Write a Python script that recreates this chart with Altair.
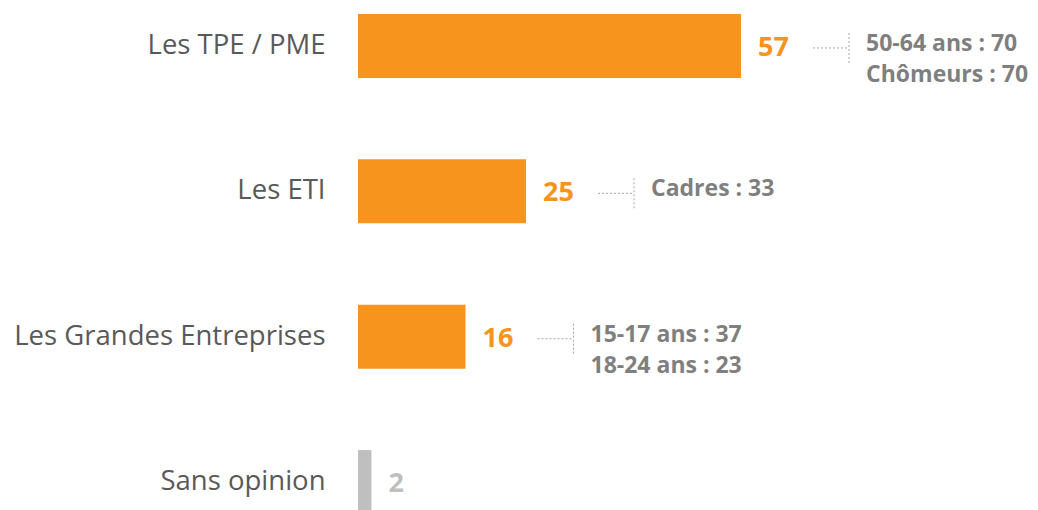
import altair as alt
import pandas as pd

categories = ["Les TPE / PME", "Les ETI", "Les Grandes Entreprises", "Sans opinion"]
values = [57, 25, 16, 2]
notes = ["50-64 ans : 70\nChômeurs : 70", "Cadres : 33", "15-17 ans : 37\n18-24 ans : 23", ""]

df = pd.DataFrame({"cat": categories, "val": values, "note": notes})

ORANGE = "#F7941E"
GREY_BAR = "#BFBFBF"
FONT = "Open Sans"

y = alt.Y("cat:N", sort=categories, title=None,
          scale=alt.Scale(paddingInner=0.56, paddingOuter=0),
          axis=alt.Axis(ticks=False, domain=False, labelPadding=33,
                        labelFontSize=27.5, labelColor="#595959", labelFont=FONT,
                        labelLimit=400))
x = alt.X("val:Q", scale=alt.Scale(domain=[0, 100]), axis=None)

is_other = alt.datum.cat == "Sans opinion"

base = alt.Chart(df)

bars = base.mark_bar().encode(
    x=x, y=y,
    color=alt.condition(is_other, alt.value(GREY_BAR), alt.value(ORANGE)),
)

labels = base.mark_text(align="left", baseline="middle", dx=17, dy=2,
                        fontSize=27, fontWeight="bold", font=FONT).encode(
    x=x, y=alt.Y("cat:N", sort=categories),
    text=alt.Text("val:Q"),
    color=alt.condition(is_other, alt.value(GREY_BAR), alt.value(ORANGE)),
)

noted = base.transform_filter(alt.datum.note != "")

hline = noted.mark_rule(color="#A6A6A6", strokeDash=[2, 2], strokeWidth=1,
                        xOffset=72, x2Offset=106, yOffset=2).encode(
    x=x, x2=alt.X2("val:Q"), y=alt.Y("cat:N", sort=categories),
)

vline = noted.mark_rule(color="#A6A6A6", strokeDash=[2, 2], strokeWidth=1,
                        xOffset=108, yOffset=-13, y2Offset=17).encode(
    x=x, y=alt.Y("cat:N", sort=categories), y2=alt.Y2("cat:N"),
)

note_text = noted.mark_text(align="left", baseline="middle", dx=125, dy=-2,
                            fontSize=23, fontWeight="bold", font=FONT,
                            color="#7F7F7F", lineBreak="\n", lineHeight=31).encode(
    x=x, y=alt.Y("cat:N", sort=categories), text="note:N",
)

chart = alt.layer(bars, hline, vline, labels, note_text).properties(
    width=672, height=500,
    autosize=alt.AutoSizeParams(type="none"),
    padding={"left": 350, "top": 6, "right": 0, "bottom": 0},
).configure_view(stroke=None)

chart.save("out.html", embed_options={"renderer": "svg", "actions": False})
